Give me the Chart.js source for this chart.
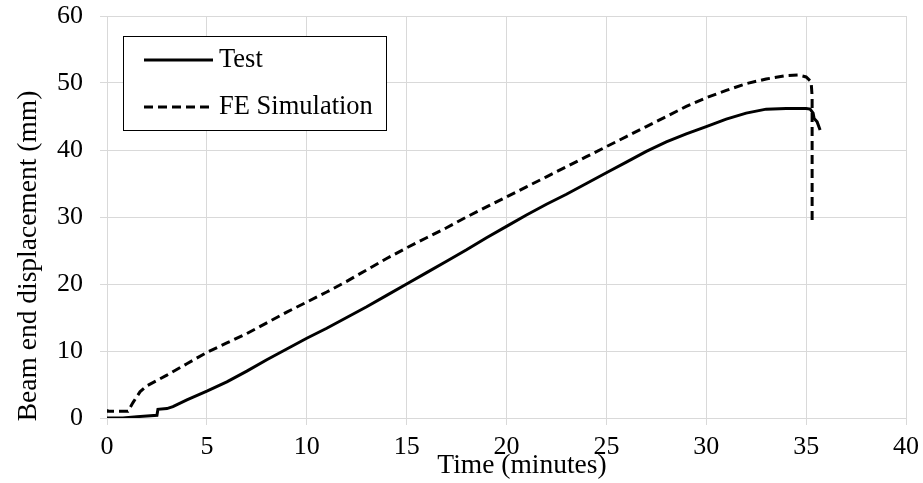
<!DOCTYPE html>
<html>
<head>
<meta charset="utf-8">
<script src="https://cdn.jsdelivr.net/npm/chart.js@4"></script>
<style>
  html, body { margin: 0; padding: 0; background: #fff; }
  #wrap { width: 923px; height: 483px; }
</style>
</head>
<body>
<div id="wrap"><canvas id="grafico"></canvas></div>
<script>
// Test curve (time in minutes, displacement in mm)
var testTime = [0, 0.8, 1.5, 2.5, 2.55, 3.0, 3.3, 4, 5, 6, 7, 8, 9, 10, 11, 12, 13, 14, 15, 16, 17, 18, 19, 20, 21, 22, 23, 24, 25, 26, 27, 28, 29, 30, 31, 32, 33, 34, 35, 35.2, 35.35, 35.4, 35.55, 35.7];
var testDisp = [0, 0, 0.2, 0.4, 1.3, 1.4, 1.7, 2.7, 4.0, 5.4, 7.0, 8.7, 10.3, 11.9, 13.4, 15.0, 16.6, 18.3, 20.0, 21.7, 23.4, 25.1, 26.9, 28.6, 30.3, 31.9, 33.4, 35.0, 36.6, 38.2, 39.8, 41.2, 42.4, 43.5, 44.6, 45.5, 46.1, 46.2, 46.2, 46.1, 45.5, 44.7, 44.2, 43.0];

// FE simulation curve
var feTime = [0, 0, 1.05, 1.3, 1.65, 2, 3, 4, 5, 6, 7, 8, 9, 10, 11, 12, 13, 14, 15, 16, 17, 18, 19, 20, 21, 22, 23, 24, 25, 26, 27, 28, 29, 30, 31, 32, 33, 34, 34.6, 35.0, 35.25, 35.3, 35.3];
var feDisp = [1.3, 1.0, 1.0, 2.3, 3.9, 4.8, 6.4, 8.1, 9.8, 11.2, 12.6, 14.2, 15.8, 17.3, 18.8, 20.4, 22.1, 23.8, 25.4, 26.9, 28.4, 30.0, 31.5, 33.0, 34.5, 36.0, 37.5, 39.0, 40.5, 42.0, 43.5, 45.0, 46.5, 47.8, 48.9, 49.9, 50.6, 51.1, 51.2, 50.9, 50.2, 48.0, 29.3];

var xTicks = [0, 5, 10, 15, 20, 25, 30, 35, 40];
var yTicks = [0, 10, 20, 30, 40, 50, 60];

var fonte = 'Liberation Serif, Times New Roman, serif';

function pontos(xs, ys) {
    var lista = [];
    for (var i = 0; i < xs.length; i++) {
        lista.push({ x: xs[i], y: ys[i] });
    }
    return lista;
}

// legenda e títulos dos eixos desenhados à mão, como no Excel
var extras = {
    id: 'extras',
    afterDraw: function (chart) {
        var ctx = chart.ctx;
        ctx.save();

        // caixa da legenda
        var bx = 123, by = 36, bw = 263, bh = 94;
        ctx.fillStyle = '#fff';
        ctx.fillRect(bx, by, bw, bh);
        ctx.strokeStyle = '#000';
        ctx.lineWidth = 1;
        ctx.strokeRect(bx + 0.5, by + 0.5, bw, bh);

        ctx.font = '26.5px ' + fonte;
        ctx.fillStyle = '#000';
        ctx.textBaseline = 'middle';
        var linhas = [60, 107];
        chart.data.datasets.forEach(function (ds, i) {
            var y = linhas[i];
            ctx.beginPath();
            ctx.lineWidth = 3;
            ctx.strokeStyle = '#000';
            ctx.setLineDash(ds.borderDash || []);
            ctx.moveTo(144, y);
            ctx.lineTo(213, y);
            ctx.stroke();
            ctx.setLineDash([]);
            ctx.textAlign = 'left';
            ctx.fillText(ds.label, 219, y);
        });

        // título do eixo x
        ctx.font = '27.5px ' + fonte;
        ctx.textAlign = 'center';
        ctx.fillText('Time (minutes)', 522, 466);

        // título do eixo y
        ctx.translate(29, 256);
        ctx.rotate(-Math.PI / 2);
        ctx.fillText('Beam end displacement (mm)', 0, 0);
        ctx.restore();
    }
};

new Chart(document.getElementById('grafico'), {
    type: 'line',
    data: {
        datasets: [{
            label: 'Test',
            data: pontos(testTime, testDisp),
            borderColor: '#000',
            backgroundColor: '#000',
            borderWidth: 3,
            pointRadius: 0,
            tension: 0
        }, {
            label: 'FE Simulation',
            data: pontos(feTime, feDisp),
            borderColor: '#000',
            backgroundColor: '#000',
            borderWidth: 3,
            borderDash: [9, 5],
            pointRadius: 0,
            tension: 0
        }]
    },
    options: {
        responsive: true,
        maintainAspectRatio: false,
        animation: false,
        layout: { padding: { top: 16, right: 17, left: 0, bottom: 0 } },
        plugins: {
            legend: { display: false },
            tooltip: { enabled: false }
        },
        scales: {
            x: {
                type: 'linear',
                min: 0,
                max: 40,
                afterBuildTicks: function (scale) {
                    scale.ticks = xTicks.map(function (v) { return { value: v }; });
                },
                afterFit: function (scale) {
                    scale.height = 65;
                    scale.paddingLeft = 0;
                    scale.paddingRight = 0;
                },
                grid: { color: '#d9d9d9', tickLength: 7, lineWidth: 1 },
                border: { color: '#d9d9d9' },
                ticks: { color: '#000', font: { family: fonte, size: 26 }, padding: 7, maxRotation: 0 }
            },
            y: {
                min: 0,
                max: 60,
                afterBuildTicks: function (scale) {
                    scale.ticks = yTicks.map(function (v) { return { value: v }; });
                },
                afterFit: function (scale) {
                    scale.width = 107;
                    scale.paddingTop = 0;
                    scale.paddingBottom = 0;
                },
                grid: { color: '#d9d9d9', tickLength: 7, lineWidth: 1 },
                border: { color: '#d9d9d9' },
                ticks: { color: '#000', font: { family: fonte, size: 26 }, padding: 17 }
            }
        }
    },
    plugins: [extras]
});
</script>
</body>
</html>
